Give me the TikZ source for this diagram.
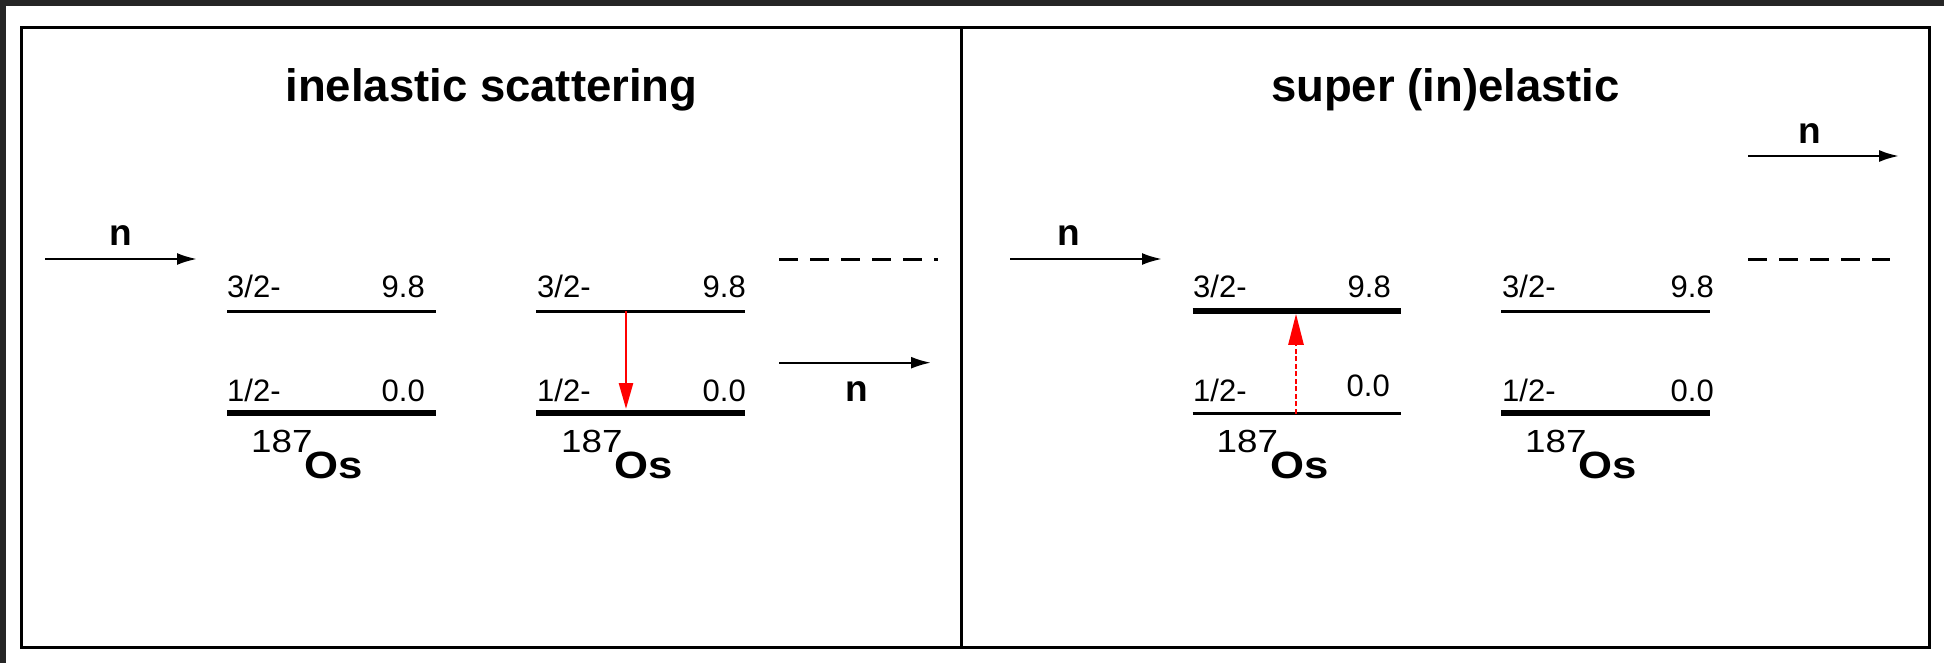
\documentclass[tikz,border=0pt]{standalone}
\usepackage{graphicx}
\usepackage{fontspec}
\setmainfont{Liberation Sans}
\usetikzlibrary{arrows.meta}
\definecolor{band}{HTML}{262626}
\tikzset{
  frame/.style={line width=3pt,draw=black},
  thinlevel/.style={line width=2.7pt},
  thicklevel/.style={line width=5.7pt},
  title/.style={inner sep=0pt,anchor=base,font=\fontsize{45.5}{46}\selectfont\bfseries},
  lbl/.style={inner sep=0pt,font=\fontsize{31}{32}\selectfont},
  nlbl/.style={inner sep=0pt,anchor=base,font=\fontsize{37}{37}\selectfont\bfseries},
  iso/.style={inner sep=0pt,anchor=base west},
  beam/.style={line width=2.3pt,-{Latex[length=20pt,width=12pt]}},
  gone/.style={line width=3pt,dash pattern=on 19pt off 12pt},
  decay/.style={red,line width=2.6pt,-{Triangle[length=26pt,width=14pt]}},
  excite/.style={red,line width=2.6pt,dash pattern=on 5pt off 2.5pt,-{Triangle[length=31pt,width=15pt]}},
}
\newcommand{\isotope}{\raisebox{25.6pt}{\scalebox{1.15}[1]{\fontsize{32}{32}\selectfont 187}}\hspace{-7.7pt}\scalebox{1.15}[1]{\fontsize{38}{38}\selectfont\bfseries Os}}
\begin{document}
\begin{tikzpicture}[x=1pt,y=-1pt]
\useasboundingbox (0,0) rectangle (1944,663);
\fill[white] (0,0) rectangle (1944,663);
\fill[band] (0,0) rectangle (1944,6);
\fill[band] (0,0) rectangle (6,663);
% frame
\draw[frame] (21.5,27.5) rectangle (1929.5,647.5);
\draw[frame] (961.5,27.5) -- (961.5,647.5);
% titles
\node[title] (t1) at (491.5,101.5) {inelastic scattering};
\node[title] (t2) at (1445.5,101.5) {super (in)elastic};

% ---------- panel 1, diagram A
\coordinate (a3l) at (227,311.3); \coordinate (a3r) at (436,311.3);
\coordinate (a1l) at (227,412.8); \coordinate (a1r) at (436,412.8);
\draw[thinlevel] (a3l) -- (a3r);
\draw[thicklevel] (a1l) -- (a1r);
\node[lbl,anchor=base west] (a3s) at (227,297.3) {3/2-};
\node[lbl,anchor=base east] (a3e) at (425,297.3) {9.8};
\node[lbl,anchor=base west] (a1s) at (227,401.5) {1/2-};
\node[lbl,anchor=base east] (a1e) at (425,401.5) {0.0};
\node[iso] (aiso) at (251,478.3) {\isotope};

% ---------- panel 1, diagram B
\coordinate (b3l) at (536,311.3); \coordinate (b3r) at (745,311.3);
\coordinate (b1l) at (536,412.8); \coordinate (b1r) at (745,412.8);
\coordinate (b3m) at (626,311.3); \coordinate (b1m) at (626,409);
\draw[thinlevel] (b3l) -- (b3r);
\draw[thicklevel] (b1l) -- (b1r);
\node[lbl,anchor=base west] (b3s) at (537,297.3) {3/2-};
\node[lbl,anchor=base east] (b3e) at (746,297.3) {9.8};
\node[lbl,anchor=base west] (b1s) at (537,401.5) {1/2-};
\node[lbl,anchor=base east] (b1e) at (746,401.5) {0.0};
\node[iso] (biso) at (561,478.3) {\isotope};
\draw[decay] (b3m) -- (b1m);

% ---------- panel 1 neutrons
\coordinate (n1a) at (45,259); \coordinate (n1b) at (197,259);
\draw[beam] (n1a) -- (n1b);
\node[nlbl] (n1) at (121,245.5) {n};
\coordinate (g1a) at (779,259.3); \coordinate (g1b) at (938,259.3);
\draw[gone] (g1a) -- (g1b);
\coordinate (n2a) at (779,362.7); \coordinate (n2b) at (931,362.7);
\draw[beam] (n2a) -- (n2b);
\node[nlbl] (n2) at (856.5,401.5) {n};

% ---------- panel 2, diagram C
\coordinate (c3l) at (1192.5,311); \coordinate (c3r) at (1401,311);
\coordinate (c1l) at (1192.5,413.5); \coordinate (c1r) at (1401,413.5);
\coordinate (c3m) at (1296,313.8); \coordinate (c1m) at (1296,413.5);
\draw[thicklevel] (c3l) -- (c3r);
\draw[thinlevel] (c1l) -- (c1r);
\node[lbl,anchor=base west] (c3s) at (1193,297.3) {3/2-};
\node[lbl,anchor=base east] (c3e) at (1391,297.3) {9.8};
\node[lbl,anchor=base west] (c1s) at (1193,401.5) {1/2-};
\node[lbl,anchor=base east] (c1e) at (1390,396.5) {0.0};
\node[iso] (ciso) at (1216.5,478.3) {\isotope};
\draw[excite] (c1m) -- (c3m);

% ---------- panel 2, diagram D
\coordinate (d3l) at (1501,311.3); \coordinate (d3r) at (1710,311.3);
\coordinate (d1l) at (1501,412.8); \coordinate (d1r) at (1710,412.8);
\draw[thinlevel] (d3l) -- (d3r);
\draw[thicklevel] (d1l) -- (d1r);
\node[lbl,anchor=base west] (d3s) at (1502,297.3) {3/2-};
\node[lbl,anchor=base east] (d3e) at (1714,297.3) {9.8};
\node[lbl,anchor=base west] (d1s) at (1502,401.5) {1/2-};
\node[lbl,anchor=base east] (d1e) at (1714,401.5) {0.0};
\node[iso] (diso) at (1525,478.3) {\isotope};

% ---------- panel 2 neutrons
\coordinate (n3a) at (1010,259); \coordinate (n3b) at (1162,259);
\draw[beam] (n3a) -- (n3b);
\node[nlbl] (n3) at (1069,245.5) {n};
\coordinate (n4a) at (1748,156); \coordinate (n4b) at (1899,156);
\draw[beam] (n4a) -- (n4b);
\node[nlbl] (n4) at (1810,143.3) {n};
\coordinate (g2a) at (1748,259.3); \coordinate (g2b) at (1890,259.3);
\draw[gone] (g2a) -- (g2b);
\end{tikzpicture}
\end{document}
